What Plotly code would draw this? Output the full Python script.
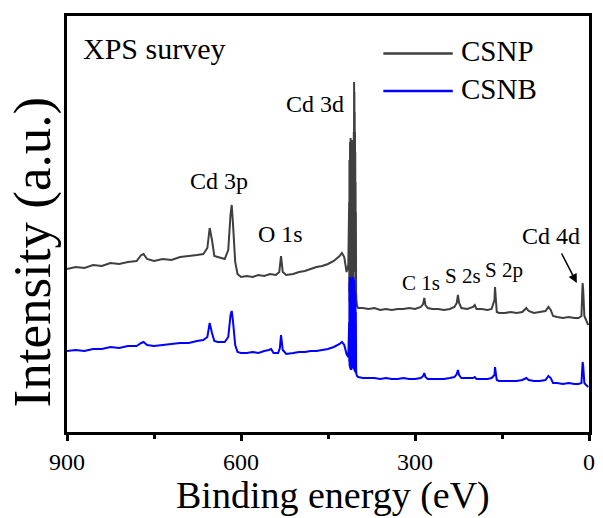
import plotly.graph_objects as go

# ---- data ----
csnp_energy = [900, 885, 870, 855, 840, 825, 810, 795, 780, 772, 768, 762, 750, 735, 720, 705, 690, 676, 665, 658,
               654, 650, 646, 640, 634, 628, 622, 618, 616, 614, 610, 606, 600, 590, 580, 570, 560, 550, 540, 534,
               531, 528, 522, 510, 500, 490, 480, 470, 460, 450, 440, 430, 426, 422, 418, 415,
               413.5, 413.25, 413, 412.75, 412.5, 412.25, 412, 411.75, 411.5, 411.25,
               411, 410.75, 410.5, 410.25, 410, 409.75, 409.5, 409.25, 409, 408.75,
               408.5, 408.25, 408, 407.75, 407.5, 407.25, 407, 406.75, 406.5, 406.25,
               406, 405.75, 405.5, 405.25, 405, 404.75, 404.5, 404.25, 404, 403.75,
               403.5, 403.25, 403, 402.75, 402.5, 402.25, 402, 401.5, 401, 400,
               398, 390, 380, 370, 360, 350, 340, 330, 320, 310, 300, 290, 286, 284, 282, 278, 270, 260, 250, 240,
               232, 228, 226, 224, 220, 210, 200, 197, 194, 185, 175, 168, 163, 162, 161, 159, 155, 145, 135,
               125, 115, 108, 104, 95, 85, 75, 70, 66, 62, 55, 45, 35, 25, 18, 13, 11, 10, 8, 5, 3, 1]
csnp_intensity = [163, 165, 164, 167, 166, 169, 168, 170, 171, 177, 178, 173, 171, 173, 172, 175, 176, 177, 178, 184,
                  204, 192, 176, 175, 174, 173, 182, 218, 227, 210, 170, 158, 155, 156, 155, 157, 156, 158, 157, 160,
                  176, 160, 157, 158, 160, 161, 163, 165, 166, 168, 171, 176, 179, 175, 160, 167,
                  230, 140, 272, 130, 270, 135, 290, 130, 275, 128,
                  294, 126, 280, 125, 288, 125, 285, 126, 292, 127,
                  282, 128, 285, 130, 278, 135, 270, 140, 262, 150,
                  260, 175, 300, 190, 350, 200, 340, 190, 320, 185,
                  300, 170, 280, 160, 250, 150, 220, 140, 132, 126,
                  124, 124, 123, 124, 122, 123, 122, 123, 123, 124, 123, 125, 128, 134, 127, 124, 123, 123, 122, 123,
                  125, 129, 137, 129, 124, 123, 125, 127, 123, 123, 122, 123, 132, 145, 136, 120, 119, 119, 120,
                  119, 120, 124, 121, 119, 120, 121, 125, 122, 116, 115, 114, 115, 114, 114, 116, 149, 142, 116, 112, 109, 107]

csnb_energy = [900, 885, 870, 855, 840, 825, 810, 795, 780, 772, 768, 762, 750, 735, 720, 705, 690, 676, 665, 658,
               654, 650, 646, 640, 634, 628, 622, 618, 616, 614, 610, 606, 600, 590, 580, 570, 560, 552, 548, 544,
               536, 533, 531, 528, 522, 510, 500, 490, 480, 470, 460, 450, 440, 430, 426, 422, 418, 415,
               413.5, 413.25, 413, 412.75, 412.5, 412.25, 412, 411.75, 411.5, 411.25,
               411, 410.75, 410.5, 410.25, 410, 409.75, 409.5, 409.25, 409, 408.75,
               408.5, 408.25, 408, 407.75, 407.5, 407.25, 407, 406.75, 406.5, 406.25,
               406, 405.75, 405.5, 405.25, 405, 404.75, 404.5, 404.25, 404, 403.75,
               403.5, 403.25, 403, 402.75, 402.5, 402.25, 402, 401.5, 401, 400,
               398, 390, 380, 370, 360, 350, 340, 330, 320, 310, 300, 290, 286, 284, 282, 278, 270, 260, 250, 240,
               232, 228, 226, 224, 220, 210, 200, 197, 194, 185, 175, 168, 163, 162, 161, 159, 155, 145, 135,
               125, 115, 108, 104, 95, 85, 75, 70, 66, 62, 55, 45, 35, 25, 18, 13, 11, 10, 8, 5, 3, 1]
csnb_intensity = [81, 82, 81, 83, 83, 85, 84, 86, 86, 89, 90, 87, 86, 87, 88, 89, 89, 91, 92, 95,
                  109, 99, 91, 90, 90, 90, 95, 117, 121, 112, 87, 80, 79, 79, 80, 79, 81, 82, 83, 79,
                  79, 84, 97, 82, 78, 79, 80, 80, 81, 81, 82, 83, 85, 88, 90, 87, 78, 75,
                  110, 70, 150, 66, 155, 65, 152, 64, 148, 63,
                  150, 62, 154, 62, 152, 62, 150, 63, 148, 64,
                  150, 65, 152, 66, 155, 67, 150, 66, 152, 65,
                  155, 64, 150, 63, 152, 62, 150, 62, 145, 61,
                  140, 60, 138, 60, 130, 59, 120, 62, 58, 56,
                  55, 54, 54, 54, 53, 54, 53, 53, 54, 53, 53, 54, 56, 59, 55, 53, 53, 53, 53, 54,
                  55, 58, 62, 57, 54, 54, 54, 55, 53, 53, 53, 54, 57, 65, 60, 52, 51, 51, 51,
                  51, 52, 54, 52, 51, 51, 52, 56, 54, 49, 49, 48, 49, 48, 48, 49, 70, 66, 49, 47, 46, 45]

series_names = ["CSNP", "CSNB"]
series_colors = ["#3f3f3f", "#0000ff"]

x_tick_vals = [900, 600, 300, 0]
x_tick_text = ["900", "600", "300", "0"]
x_minor_vals = [750, 450, 150]

peak_labels = ["Cd 3d", "Cd 3p", "O 1s", "C 1s", "S 2s", "S 2p", "Cd 4d"]
peak_label_e = [472, 637.5, 532, 290, 217, 147, 65.6]
peak_label_i = [328, 251, 198, 149, 156, 162, 196.5]
peak_label_size = [24, 24, 24, 21, 21, 21, 24]

FONT = "Liberation Serif, Times New Roman, serif"

fig = go.Figure()
fig.add_trace(go.Scatter(x=csnp_energy, y=csnp_intensity, mode="lines", name=series_names[0],
                         line=dict(color=series_colors[0], width=2, simplify=False), showlegend=False))
fig.add_trace(go.Scatter(x=csnb_energy, y=csnb_intensity, mode="lines", name=series_names[1],
                         line=dict(color=series_colors[1], width=2, simplify=False), showlegend=False))

annotations = []
for t, e, i, s in zip(peak_labels, peak_label_e, peak_label_i, peak_label_size):
    annotations.append(dict(x=e, y=i, xref="x", yref="y", text=t, showarrow=False,
                            xanchor="center", yanchor="middle",
                            font=dict(family=FONT, size=s, color="black")))
# arrow to Cd 4d peak
annotations.append(dict(x=21, y=149, xref="x", yref="y", text="", showarrow=True,
                        ax=-16, ay=-31, axref="pixel", ayref="pixel",
                        arrowhead=2, arrowsize=1.2, arrowwidth=1.5, arrowcolor="black"))
annotations.append(dict(x=0.168, y=0.922, xref="paper", yref="paper", text="XPS survey", showarrow=False,
                        xanchor="center", yanchor="middle", font=dict(family=FONT, size=30, color="black")))
# axis titles
annotations.append(dict(x=-0.066, y=0.433, xref="paper", yref="paper", text="Intensity (a.u.)",
                        showarrow=False, textangle=-90, xanchor="center", yanchor="middle",
                        font=dict(family=FONT, size=53, color="black")))
annotations.append(dict(x=0.51, y=-0.152, xref="paper", yref="paper", text="Binding energy (eV)",
                        showarrow=False, xanchor="center", yanchor="middle",
                        font=dict(family=FONT, size=38, color="black")))

# custom legend
shapes = []
legend_y = [0.91, 0.82]
for name, col, ly in zip(series_names, series_colors, legend_y):
    shapes.append(dict(type="line", xref="paper", yref="paper", x0=0.606, x1=0.739, y0=ly, y1=ly,
                       line=dict(color=col, width=2.5)))
    annotations.append(dict(x=0.750, y=ly + 0.005, xref="paper", yref="paper", text=name, showarrow=False,
                            xanchor="left", yanchor="middle", font=dict(family=FONT, size=29, color="black")))

fig.update_layout(
    width=603, height=518,
    margin=dict(l=67, r=8, t=16, b=86),
    paper_bgcolor="white", plot_bgcolor="white",
    showlegend=False,
    annotations=annotations,
    shapes=shapes,
    xaxis=dict(range=[900, 0], showline=True, linecolor="black", linewidth=2.5, mirror=True,
               ticks="outside", ticklen=6, tickwidth=2.5, tickcolor="black",
               tickvals=x_tick_vals, ticktext=x_tick_text,
               tickfont=dict(family=FONT, size=24, color="black"),
               minor=dict(tickvals=x_minor_vals, ticks="outside", ticklen=4, tickwidth=2.5, tickcolor="black"),
               showgrid=False, zeroline=False),
    yaxis=dict(range=[0, 416], showline=True, linecolor="black", linewidth=2.5, mirror=True,
               ticks="", showticklabels=False, showgrid=False, zeroline=False),
)

fig.write_html("out.html")
